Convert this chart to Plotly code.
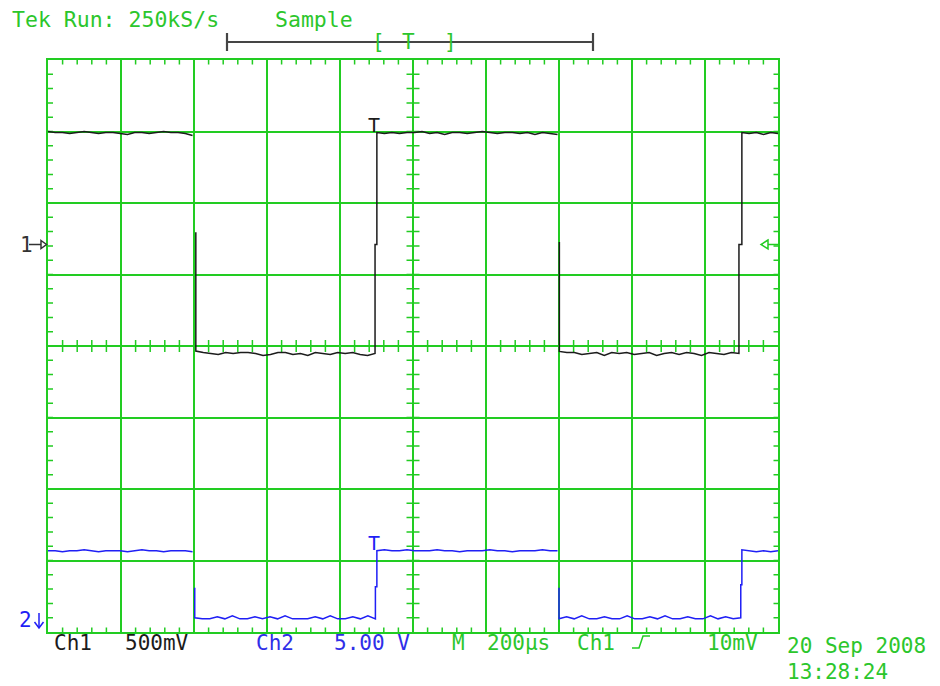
import numpy as np
import plotly.graph_objects as go

# ---------------- scope settings ----------------
T_DIV_US = 200            # M 200 µs / div, 10 divisions
CH1_V_DIV = 0.5           # Ch1 500 mV / div
CH2_V_DIV = 5.0           # Ch2 5.00 V / div
CH1_GND_DIV = 1.42        # Ch1 ground marker (divisions above centre)
CH2_GND_DIV = -3.83       # Ch2 ground marker

# ---------------- Ch1 trace (volts) ----------------
# flat runs between edges: start/end time in µs and the readings along each run
ch1_run_start_us = [0, 405, 901, 1401, 1901]
ch1_run_end_us = [396, 896, 1396, 1893, 2000]
ch1_run_v = [
    [0.790, 0.783, 0.783, 0.776, 0.783, 0.790, 0.783, 0.776, 0.783, 0.783, 0.776,
     0.769, 0.783, 0.783, 0.776, 0.783, 0.790, 0.783, 0.783, 0.776, 0.762],
    [-0.745, -0.755, -0.762, -0.769, -0.755, -0.762, -0.755, -0.755, -0.762, -0.776,
     -0.769, -0.755, -0.755, -0.769, -0.762, -0.776, -0.755, -0.762, -0.769, -0.755,
     -0.762, -0.755, -0.769, -0.776, -0.762],
    [0.783, 0.776, 0.783, 0.776, 0.783, 0.783, 0.790, 0.776, 0.783, 0.769, 0.783,
     0.783, 0.776, 0.783, 0.790, 0.783, 0.776, 0.783, 0.783, 0.776, 0.783, 0.769,
     0.783, 0.776, 0.769],
    [-0.748, -0.755, -0.755, -0.769, -0.762, -0.755, -0.776, -0.755, -0.762, -0.755,
     -0.769, -0.762, -0.755, -0.776, -0.762, -0.755, -0.769, -0.755, -0.762, -0.776,
     -0.755, -0.762, -0.769, -0.755, -0.762],
    [0.783, 0.776, 0.783, 0.769, 0.783, 0.776],
]
# sample caught half-way through each edge
ch1_edge_mid_v = [0.085, 0.0, 0.017, 0.0]

# ---------------- Ch2 trace (volts) ----------------
ch2_run_start_us = [0, 402, 901, 1400, 1901]
ch2_run_end_us = [396, 897, 1396, 1898, 2000]
ch2_run_v = [
    [4.83, 4.83, 4.76, 4.83, 4.83, 4.90, 4.83, 4.76, 4.83, 4.83, 4.83, 4.76, 4.83,
     4.90, 4.83, 4.83, 4.76, 4.83, 4.83, 4.83, 4.76],
    [0.14, 0.07, 0.07, 0.21, 0.07, 0.28, 0.07, 0.07, 0.21, 0.07, 0.21, 0.07, 0.28,
     0.07, 0.07, 0.07, 0.21, 0.07, 0.28, 0.07, 0.07, 0.21, 0.07, 0.28, 0.07],
    [4.83, 4.90, 4.83, 4.83, 4.90, 4.83, 4.83, 4.83, 4.90, 4.83, 4.83, 4.76, 4.83,
     4.83, 4.83, 4.90, 4.83, 4.83, 4.76, 4.83, 4.83, 4.83, 4.90, 4.83, 4.83],
    [0.07, 0.21, 0.07, 0.28, 0.07, 0.07, 0.21, 0.07, 0.07, 0.28, 0.07, 0.07, 0.21,
     0.07, 0.28, 0.07, 0.07, 0.21, 0.07, 0.07, 0.28, 0.07, 0.21, 0.07, 0.14],
    [4.90, 4.83, 4.76, 4.83, 4.76, 4.83],
]
ch2_edge_mid_v = [2.24, 2.31, 2.24, 2.45]

# ---------------- readouts ----------------
header_texts = ["Tek Run: 250kS/s", "Sample"]
ch1_readout = ["Ch1", "500mV"]
ch2_readout = ["Ch2", "5.00 V"]
time_readout = ["M", "200µs", "Ch1", "10mV"]
date_lines = ["20 Sep 2008", "13:28:24"]

# ---------------- colours / page geometry ----------------
GREEN = "#22cc22"
GREEN_TXT = "#2cc62c"
BLACK = "#1c1c1c"
BLUE = "#1f1ff5"
BLUE_TXT = "#2f2fe8"
FONT = "DejaVu Sans Mono"
FS = 21

W, H = 940, 686
ML, MR, MT, MB = 48, 162, 60, 54
PW, PH = W - ML - MR, H - MT - MB
PX_PER_DIV_X = PW / 10
PX_PER_DIV_Y = PH / 8


def fx(px):
    return (px - ML) / PW


def fy(py):
    return (H - MB - py) / PH


def build_trace(starts, ends, runs, edge_mid, gnd_div, v_div):
    t, v = [], []
    for i, vals in enumerate(runs):
        t.extend(np.linspace(starts[i], ends[i], len(vals)).tolist())
        v.extend(vals)
        if i < len(edge_mid):
            if runs[i + 1][0] > vals[-1]:      # rising edge: two vertical strokes
                t += [ends[i], starts[i + 1]]
                v += [edge_mid[i], edge_mid[i]]
            else:                               # falling edge: leading slope not drawn
                t += [None, starts[i + 1]]
                v += [None, edge_mid[i]]
    y = [None if val is None else gnd_div + val / v_div for val in v]
    return t, y


fig = go.Figure()

t1, y1 = build_trace(ch1_run_start_us, ch1_run_end_us, ch1_run_v,
                     ch1_edge_mid_v, CH1_GND_DIV, CH1_V_DIV)
t2, y2 = build_trace(ch2_run_start_us, ch2_run_end_us, ch2_run_v,
                     ch2_edge_mid_v, CH2_GND_DIV, CH2_V_DIV)

fig.add_trace(go.Scatter(x=t1, y=y1, mode="lines", connectgaps=False,
                         line=dict(color=BLACK, width=1.5), hoverinfo="skip"))
fig.add_trace(go.Scatter(x=t2, y=y2, mode="lines", connectgaps=False,
                         line=dict(color=BLUE, width=1.5), hoverinfo="skip"))

# ---------------- graticule ticks (5 per division) ----------------
x_total = 10 * T_DIV_US
minor_x = [T_DIV_US / 5 * k for k in range(1, 50)]
minor_y = [-4 + 0.2 * k for k in range(1, 40)]
dy = lambda px: px / PX_PER_DIV_Y
dx = lambda px: px / PX_PER_DIV_X * T_DIV_US


def vpath(xs, ya, yb):
    return "".join(f"M{x:.3f},{ya:.4f}L{x:.3f},{yb:.4f}" for x in xs)


def hpath(ys, xa, xb):
    return "".join(f"M{xa:.3f},{y:.4f}L{xb:.3f},{y:.4f}" for y in ys)


tick_paths = [
    vpath(minor_x, 4, 4 - dy(4.5)),             # top border
    vpath(minor_x, -4, -4 + dy(4.5)),           # bottom border
    vpath(minor_x, -dy(6), dy(6)),              # centre horizontal
    hpath(minor_y, 0, dx(5)),                   # left border
    hpath(minor_y, x_total, x_total - dx(4.5)), # right border
    hpath(minor_y, x_total / 2 - dx(6.5), x_total / 2 + dx(6.5)),  # centre vertical
]
shapes = [dict(type="path", path=p, xref="x", yref="y",
               line=dict(color=GREEN, width=1.5), layer="below") for p in tick_paths]

# record-length bar above the graticule
bar = dict(color="#454545", width=2.2)
shapes += [
    dict(type="line", xref="paper", yref="paper", x0=fx(227), x1=fx(593),
         y0=fy(42), y1=fy(42), line=bar),
    dict(type="line", xref="paper", yref="paper", x0=fx(227), x1=fx(227),
         y0=fy(33), y1=fy(51), line=bar),
    dict(type="line", xref="paper", yref="paper", x0=fx(593), x1=fx(593),
         y0=fy(33), y1=fy(51), line=bar),
]

# Ch1 ground marker arrow
shapes += [
    dict(type="line", xref="paper", yref="paper", x0=fx(29), x1=fx(41),
         y0=fy(244.5), y1=fy(244.5), line=dict(color="#333333", width=1.5)),
    dict(type="path", xref="paper", yref="paper",
         path=f"M{fx(41)},{fy(240.5)}L{fx(46.5)},{fy(244.5)}L{fx(41)},{fy(248.5)}Z",
         line=dict(color="#333333", width=1.5), fillcolor="white"),
]
# trigger level marker on the right edge
shapes += [
    dict(type="line", xref="paper", yref="paper", x0=fx(768), x1=fx(778),
         y0=fy(244.5), y1=fy(244.5), line=dict(color=GREEN, width=1.5)),
    dict(type="path", xref="paper", yref="paper",
         path=f"M{fx(768)},{fy(240)}L{fx(761)},{fy(244.5)}L{fx(768)},{fy(249)}Z",
         line=dict(color=GREEN, width=1.5), fillcolor="white"),
]
# Ch2 ground marker (down arrow)
shapes += [
    dict(type="line", xref="paper", yref="paper", x0=fx(39), x1=fx(39),
         y0=fy(613), y1=fy(627), line=dict(color=BLUE, width=1.5)),
    dict(type="path", xref="paper", yref="paper",
         path=f"M{fx(34.5)},{fy(622)}L{fx(39)},{fy(628)}L{fx(43.5)},{fy(622)}",
         line=dict(color=BLUE, width=1.5)),
]
# rising-slope trigger symbol
shapes.append(dict(type="path", xref="paper", yref="paper",
                   path=f"M{fx(632)},{fy(648)}L{fx(639)},{fy(648)}L{fx(643)},{fy(636)}L{fx(650)},{fy(636)}",
                   line=dict(color=GREEN, width=1.5)))

# ---------------- text ----------------
ann = []


def label(text, px, py, color, size=FS, anchor="left"):
    ann.append(dict(text=text, x=fx(px), y=fy(py), xref="paper", yref="paper",
                    xanchor=anchor, yanchor="middle", showarrow=False, borderpad=0,
                    font=dict(family=FONT, size=size, color=color)))


label(header_texts[0], 11, 20, GREEN_TXT, size=21.5)
label(header_texts[1], 274, 20, GREEN_TXT, size=21.5)
label("[", 371, 42, GREEN_TXT)
label("T", 408.5, 42, GREEN_TXT, anchor="center")
label("]", 443, 42, GREEN_TXT)

label("T", 373.5, 125, BLACK, size=20, anchor="center")
label("T", 373.5, 543, BLUE, size=20, anchor="center")
label("1", 19, 244.5, "#333333")
label("2", 18, 620, BLUE)

label(ch1_readout[0], 53, 643, BLACK)
label(ch1_readout[1], 124, 643, BLACK)
label(ch2_readout[0], 255, 643, BLUE_TXT)
label(ch2_readout[1], 333, 643, BLUE_TXT)
label(time_readout[0], 451, 643, GREEN_TXT)
label(time_readout[1], 486, 643, GREEN_TXT)
label(time_readout[2], 576, 643, GREEN_TXT)
label(time_readout[3], 706, 643, GREEN_TXT)
label(date_lines[0], 786, 646, GREEN_TXT)
label(date_lines[1], 786, 672, GREEN_TXT)

axis_common = dict(showline=True, linecolor=GREEN, linewidth=2, mirror=True,
                   showgrid=True, gridcolor=GREEN, gridwidth=1.6, zeroline=False,
                   showticklabels=False, ticks="", fixedrange=True)

fig.update_layout(
    width=W, height=H,
    margin=dict(l=ML, r=MR, t=MT, b=MB, pad=0),
    paper_bgcolor="white", plot_bgcolor="white",
    showlegend=False,
    xaxis=dict(range=[0, x_total], dtick=T_DIV_US, tick0=0, **axis_common),
    yaxis=dict(range=[-4, 4], dtick=1, tick0=-4, **axis_common),
    shapes=shapes,
    annotations=ann,
)

fig.write_html("out.html", config={"displayModeBar": False})
